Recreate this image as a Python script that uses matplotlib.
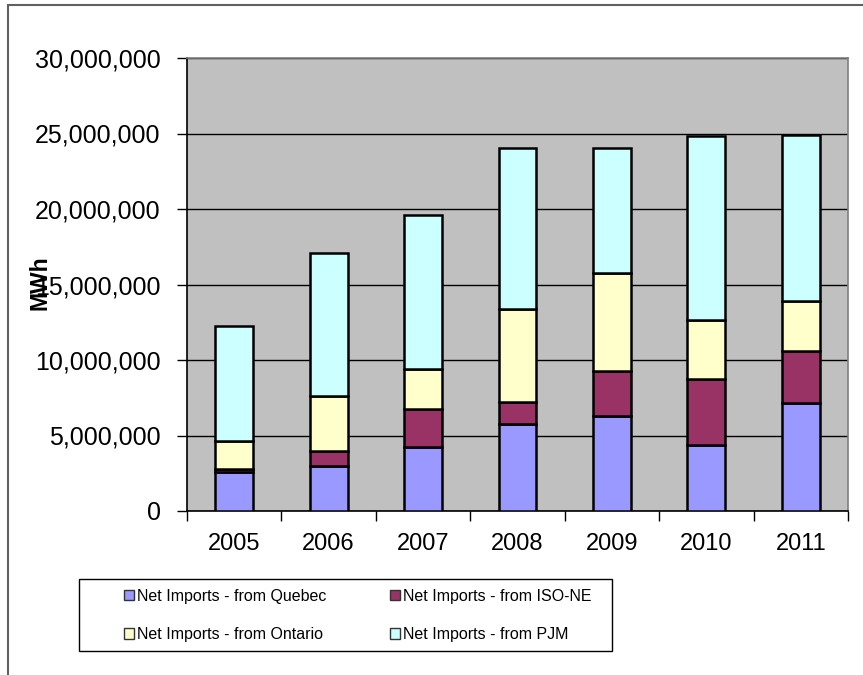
import numpy as np
import matplotlib.pyplot as plt
from matplotlib.patches import Rectangle, Patch
from matplotlib.ticker import FuncFormatter, FixedLocator

plt.rcParams['font.family'] = ['Liberation Sans', 'DejaVu Sans']

# Net imports by source, MWh
years = ['2005', '2006', '2007', '2008', '2009', '2010', '2011']
quebec = [2600000, 3000000, 4250000, 5750000, 6300000, 4350000, 7150000]
iso_ne = [150000, 1000000, 2500000, 1500000, 3000000, 4400000, 3450000]
ontario = [1900000, 3600000, 2650000, 6100000, 6450000, 3900000, 3300000]
pjm = [7600000, 9500000, 10200000, 10700000, 8300000, 12200000, 11000000]

series = [
    ('Net Imports - from Quebec', quebec, '#9999FF'),
    ('Net Imports - from ISO-NE', iso_ne, '#993366'),
    ('Net Imports - from Ontario', ontario, '#FFFFCC'),
    ('Net Imports - from PJM', pjm, '#CCFFFF'),
]

fig = plt.figure(figsize=(8.63, 6.75), dpi=100)
ax = fig.add_axes([187/863, 1 - 511/675, (848 - 187)/863, (511 - 58)/675])
ax.set_facecolor('#C0C0C0')

x = np.arange(len(years))
bottom = np.zeros(len(years))
for name, vals, color in series:
    ax.bar(x, vals, width=0.4, bottom=bottom, color=color,
           edgecolor='black', linewidth=1.8, label=name, zorder=3)
    bottom += np.array(vals)

ax.set_xlim(-0.5, len(years) - 0.5)
ax.set_ylim(0, 30000000)
ax.set_yticks(np.arange(0, 30000001, 5000000))
ax.yaxis.set_major_formatter(FuncFormatter(lambda v, p: f'{int(v):,}'))
ax.yaxis.grid(True, color='black', linewidth=1.0, zorder=1)
ax.set_axisbelow(True)

ax.set_xticks(x)
ax.set_xticklabels(years)
ax.xaxis.set_minor_locator(FixedLocator(np.arange(-0.5, len(years), 1.0)))
ax.tick_params(axis='x', which='major', length=0, pad=16, labelsize=17)
ax.tick_params(axis='x', which='minor', length=7, width=1, color='black')
ax.tick_params(axis='y', length=7, width=1, color='black', pad=12, labelsize=18)

for s in ax.spines.values():
    s.set_color('#808080')
    s.set_linewidth(1.2)
ax.spines['left'].set_color('black')
ax.spines['bottom'].set_color('black')

fig.text(40/863, 1 - 283/675, 'MWh', rotation=90, fontsize=16.5,
         fontweight='bold', ha='center', va='center')

# outer chart frame
fig.patches.append(Rectangle((8/863, -0.1), 1.2, 1 - 5/675 + 0.1,
                             transform=fig.transFigure, fill=False,
                             edgecolor='#606060', linewidth=1.5))

# legend box
fig.patches.append(Rectangle((79/863, 1 - 651/675), (612 - 79)/863, 72/675,
                             transform=fig.transFigure, fill=False,
                             edgecolor='black', linewidth=1.0))

# row-wise order: matplotlib fills legend columns first
order = [0, 2, 1, 3]
handles = [Patch(facecolor=series[i][2], edgecolor='#333333', linewidth=1.0,
                 label=series[i][0]) for i in order]
leg = fig.legend(handles=handles, ncol=2, loc='upper left',
                 bbox_to_anchor=(124/863, 1 - 589/675), borderaxespad=0,
                 fontsize=11.5, frameon=False,
                 handlelength=0.6, handleheight=0.6, handletextpad=0.2,
                 borderpad=0, labelspacing=1.45, columnspacing=4.0)

fig.savefig('out.png', dpi=100)
